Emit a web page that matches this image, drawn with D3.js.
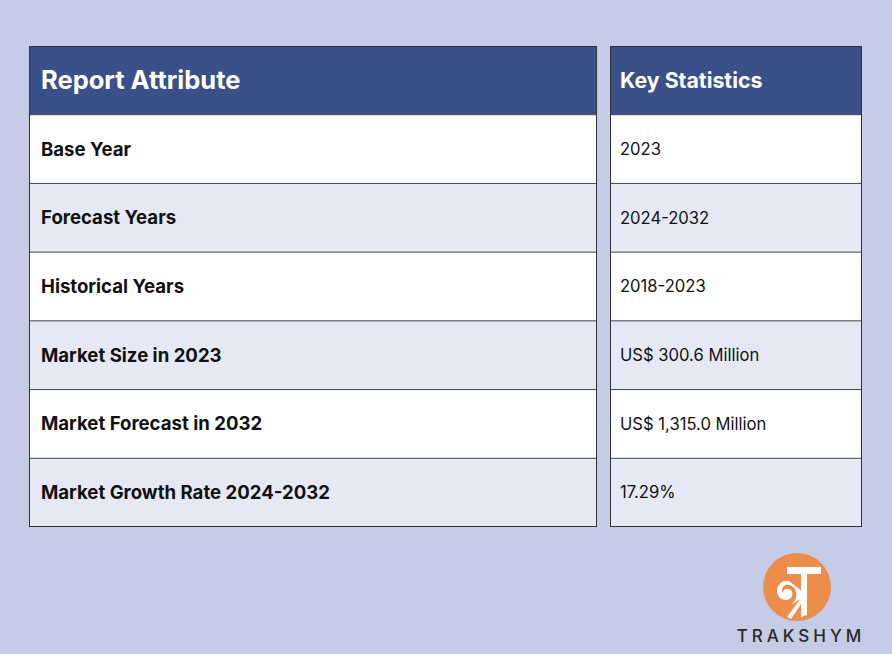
<!DOCTYPE html>
<html><head><meta charset="utf-8">
<script src="https://cdn.jsdelivr.net/npm/d3@7"></script>
<style>body{margin:0;background:#c5cce6;}svg{display:block;}</style>
</head><body>
<script>
const headers = ["Report Attribute", "Key Statistics"];
const attributes = ["Base Year","Forecast Years","Historical Years","Market Size in 2023","Market Forecast in 2032","Market Growth Rate 2024-2032"];
const statistics = ["2023","2024-2032","2018-2023","US$ 300.6 Million","US$ 1,315.0 Million","17.29%"];
const brand = "TRAKSHYM";

const W = 892, H = 654;
const svg = d3.select("body").append("svg").attr("width", W).attr("height", H);
svg.append("rect").attr("width", W).attr("height", H).attr("fill", "#c5cce6");

const rowsAll = ["__header", ...attributes.map((d,i)=>i)];
const y = d3.scaleBand().domain(rowsAll).range([46, 527]).padding(0);
const cols = [{x0:29, x1:597, pad:12, vals: attributes, head: headers[0], bold:true, hs:25.5, fs:18.6},
              {x0:610, x1:862, pad:10, vals: statistics, head: headers[1], bold:false, hs:21.3, fs:16.6}];
const font = "Inter, 'Noto Sans', sans-serif";

cols.forEach(c => {
  const g = svg.append("g");
  g.append("rect").attr("x", c.x0).attr("y", y("__header")).attr("width", c.x1-c.x0).attr("height", y.bandwidth())
    .attr("fill", "#3b5089");
  g.append("text").attr("x", c.x0+c.pad).attr("y", y("__header")+y.bandwidth()/2).attr("dy","0.35em")
    .attr("fill","#fff").attr("font-family", font).attr("font-weight", 700)
    .attr("font-size", c.hs).text(c.head);
  c.vals.forEach((v,i) => {
    g.append("rect").attr("x", c.x0).attr("y", y(i)).attr("width", c.x1-c.x0).attr("height", y.bandwidth())
      .attr("fill", i%2===0 ? "#ffffff" : "#e6e9f5");
    g.append("text").attr("x", c.x0+c.pad).attr("y", y(i)+y.bandwidth()/2).attr("dy","0.35em")
      .attr("fill","#111").attr("font-family", font).attr("font-weight", c.bold?700:400)
      .attr("font-size", c.fs).text(v);
  });
  rowsAll.slice(1).forEach(r => {
    g.append("line").attr("x1", c.x0).attr("x2", c.x1).attr("y1", y(r)).attr("y2", y(r))
      .attr("stroke", "#444").attr("stroke-width", 1);
  });
  g.append("rect").attr("x", c.x0+0.5).attr("y", 46.5).attr("width", c.x1-c.x0-1).attr("height", 527-46-1)
    .attr("fill","none").attr("stroke","#333").attr("stroke-width",1);
});

// logo
const lg = svg.append("g").attr("transform","translate(797,587)");
lg.append("circle").attr("r", 34).attr("fill", "#ec8d4a");
lg.append("path").attr("d","M-10,-20 L24,-20 L24,-13 L10,-13 L10,28 L4,30 L4,-13 L-10,-13 Z").attr("fill","#fff");
lg.append("path").attr("d","M-8,-6 C-22,-8 -24,12 -12,13 C-4,14 -2,4 -8,2 C-14,0 -16,8 -12,9 C-18,4 -14,-4 -8,-2 C0,0 2,10 -4,16 L-6,18 L10,8 Z").attr("fill","#fff");
lg.append("path").attr("d","M-10,30 L8,6 L10,8 L-6,32 Z").attr("fill","#fff");
svg.append("text").attr("x", 801).attr("y", 642).attr("text-anchor","middle")
  .attr("font-family", font).attr("font-size", 17).attr("font-weight", 500)
  .attr("letter-spacing", 4).attr("fill","#2a2a2a").text(brand);
</script>
</body></html>
